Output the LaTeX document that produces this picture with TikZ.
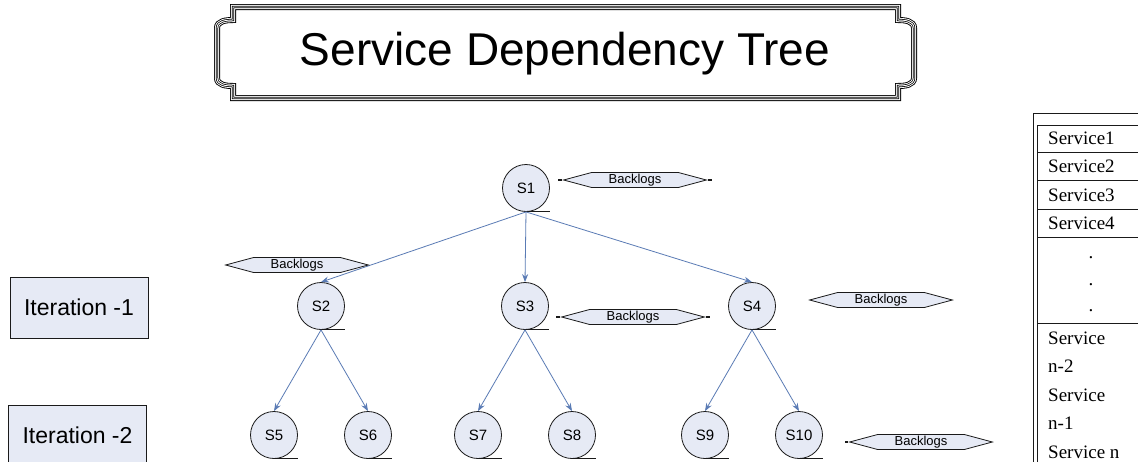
\documentclass[tikz,border=0pt]{standalone}
\usepackage{fontspec}
\setmainfont{Liberation Sans}
\newfontfamily\tablefont{Liberation Serif}
\usetikzlibrary{shapes.symbols,arrows.meta}
\definecolor{lav}{HTML}{E6EAF5}
\definecolor{edgeblue}{HTML}{5A7BB5}
\definecolor{ink}{HTML}{1A1A1A}
\tikzset{
  svc/.style={circle, draw=ink, fill=lav, minimum size=47pt, inner sep=0pt,
    line width=0.8pt, font=\fontsize{15}{15}\selectfont},
  tail/.style={draw=ink, line width=1pt},
  bl/.style={signal, signal to=west and east, signal pointer angle=30,
    draw=ink, fill=lav, line width=0.8pt, minimum height=15pt,
    inner xsep=17pt, inner ysep=0pt, font=\fontsize{13}{13}\selectfont},
  tick/.style={draw=ink, line width=1.4pt},
  dep/.style={draw=edgeblue, line width=0.8pt, -{Stealth[length=8pt,width=6pt]}},
  iter/.style={draw=ink, fill=lav, line width=0.8pt, minimum width=138pt,
    minimum height=61pt, inner sep=0pt, font=\fontsize{23}{23}\selectfont},
  rowline/.style={draw=ink, line width=0.8pt},
  cell/.style={anchor=west, inner sep=0pt, font=\tablefont\fontsize{19}{19}\selectfont},
  dotcell/.style={inner sep=0pt, font=\tablefont\fontsize{19}{19}\selectfont}
}
\begin{document}
\begin{tikzpicture}[x=1pt,y=-1pt]
\useasboundingbox[fill=white] (0,0) rectangle (1138,461);

% title plate: notched frame stroked as several parallel lines
\def\plate{(233,7) -- (898,7) -- (898,20) to[out=0,in=90] (914,28) -- (914,78)
  to[out=-90,in=0] (898,86) -- (898,98) -- (233,98) -- (233,86)
  to[out=180,in=-90] (217,78) -- (217,28) to[out=90,in=180] (233,20) -- cycle}
\fill[white] \plate;
\draw[black, line width=6pt] \plate;
\draw[white, line width=4.2pt] \plate;
\draw[black, line width=2.4pt] \plate;
\draw[white, line width=0.9pt] \plate;
\node[anchor=base, inner sep=0pt, font=\fontsize{46}{46}\selectfont] (title) at (565,65) {Service Dependency Tree};

% iteration labels
\node[iter] (it1) at (79,307.5) {Iteration -1};
\node[iter] (it2) at (77.5,435.5) {Iteration -2};

% services
\node[svc] (s1) at (526,188) {S1};
\node[svc] (s2) at (321,306) {S2};
\node[svc] (s3) at (525,306) {S3};
\node[svc] (s4) at (752,306) {S4};
\node[svc] (s5) at (274,435) {S5};
\node[svc] (s6) at (368,435) {S6};
\node[svc] (s7) at (478,435) {S7};
\node[svc] (s8) at (572,435) {S8};
\node[svc] (s9) at (705,435) {S9};
\node[svc] (s10) at (799,435) {S10};
\foreach \n in {s1,s2,s3,s4,s5,s6,s7,s8,s9,s10}
  \draw[tail] (\n.south) -- ++(24,0);

% dependencies
\draw[dep] (s1.south) -- (s2.north);
\draw[dep] (s1.south) -- (s3.north);
\draw[dep] (s1.south) -- (s4.north);
\draw[dep] (s2.south) -- (s5.north);
\draw[dep] (s2.south) -- (s6.north);
\draw[dep] (s3.south) -- (s7.north);
\draw[dep] (s3.south) -- (s8.north);
\draw[dep] (s4.south) -- (s9.north);
\draw[dep] (s4.south) -- (s10.north);

% backlogs
\node[bl] (b1) at (635,180) {Backlogs};
\node[bl] (b2) at (297,265) {Backlogs};
\node[bl] (b3) at (633,317) {Backlogs};
\node[bl] (b4) at (881,300) {Backlogs};
\node[bl] (b5) at (921,442) {Backlogs};
\draw[tick] (b1.west) -- ++(-4,0);
\draw[tick] (b1.east) -- ++(4,0);
\draw[tick] (b3.west) -- ++(-4,0);
\draw[tick] (b3.east) -- ++(4,0);
\draw[tick] (b5.west) -- ++(-3,0);

% service table: framed border, then row rules
\draw[ink, line width=0.8pt] (1033,470) -- (1033,113) -- (1140,113);
\draw[ink, line width=0.8pt] (1037,470) -- (1037,125) -- (1140,125);
\foreach \y in {152,180,209,237,323}
  \draw[rowline] (1037,\y) -- (1138,\y);
\node[cell] (r1) at (1048,138.5) {Service1};
\node[cell] (r2) at (1048,166) {Service2};
\node[cell] (r3) at (1048,195) {Service3};
\node[cell] (r4) at (1048,223) {Service4};
\node[dotcell] (d1) at (1091,258) {.};
\node[dotcell] (d2) at (1091,285) {.};
\node[dotcell] (d3) at (1091,311) {.};
\node[cell] (r5) at (1048,338) {Service};
\node[cell] (r6) at (1048,366) {n-2};
\node[cell] (r7) at (1048,395) {Service};
\node[cell] (r8) at (1048,423) {n-1};
\node[cell] (r9) at (1048,452) {Service n};
\end{tikzpicture}
\end{document}
